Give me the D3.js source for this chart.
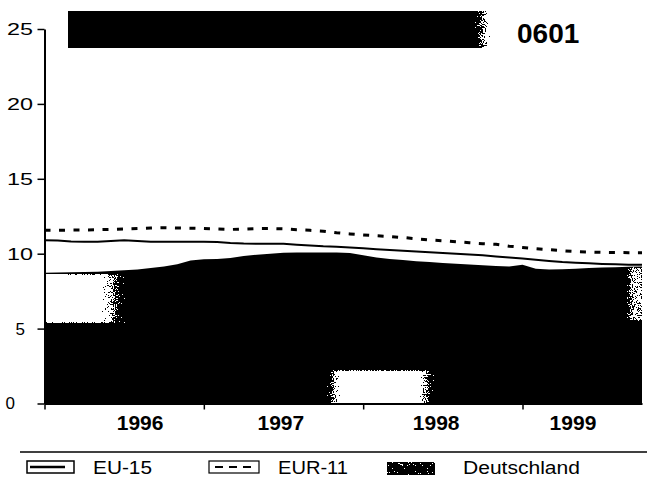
<!DOCTYPE html>
<html>
<head>
<meta charset="utf-8">
<script src="https://cdn.jsdelivr.net/npm/d3@7"></script>
<style>
  html, body { margin: 0; padding: 0; background: #fff; }
  svg { display: block; font-family: "Liberation Sans", Arial, sans-serif; }
</style>
</head>
<body>
<div id="container"></div>
<script>
// monthly values, Jan 1996 .. Oct 1999
const deutschland = [8.72, 8.74, 8.76, 8.78, 8.80, 8.85, 8.89, 8.95, 9.05, 9.15, 9.30, 9.55,
                     9.63, 9.65, 9.72, 9.85, 9.93, 10.00, 10.07, 10.08, 10.08, 10.08, 10.08, 10.05,
                     9.90, 9.75, 9.65, 9.58, 9.50, 9.45, 9.38, 9.33, 9.28, 9.23, 9.18, 9.15,
                     9.27, 9.00, 8.95, 8.97, 9.00, 9.05, 9.08, 9.10, 9.13, 9.15];
const eu15 = [10.90, 10.88, 10.82, 10.80, 10.80, 10.85, 10.90, 10.85, 10.80, 10.80, 10.80, 10.80,
              10.80, 10.78, 10.72, 10.68, 10.67, 10.67, 10.66, 10.60, 10.55, 10.50, 10.47, 10.42,
              10.36, 10.30, 10.25, 10.20, 10.15, 10.10, 10.05, 10.00, 9.95, 9.90, 9.82, 9.75,
              9.68, 9.60, 9.52, 9.45, 9.40, 9.36, 9.32, 9.29, 9.27, 9.26];
const eur11 = [11.56, 11.56, 11.58, 11.58, 11.60, 11.62, 11.65, 11.68, 11.72, 11.74, 11.72, 11.70,
               11.68, 11.65, 11.62, 11.64, 11.68, 11.68, 11.66, 11.60, 11.56, 11.50, 11.40, 11.32,
               11.25, 11.20, 11.15, 11.08, 11.00, 10.92, 10.86, 10.80, 10.73, 10.67, 10.63, 10.50,
               10.42, 10.34, 10.27, 10.20, 10.14, 10.11, 10.09, 10.08, 10.07, 10.07];
const yearLabels = ['1996', '1997', '1998', '1999'];
const yearTicks = [0, 12, 24, 36];
const yTicks = [0, 5, 10, 15, 20, 25];
const legendLabels = ['EU-15', 'EUR-11', 'Deutschland'];
const chartCode = '0601';

const w = 647, h = 483;

const x = d3.scaleLinear().domain([0, deutschland.length - 1]).range([44.5, 642]);
const y = d3.scaleLinear().domain([0, 25]).range([403.5, 29]);

const svg = d3.select('#container').append('svg')
    .attr('width', w)
    .attr('height', h);

const defs = svg.append('defs');

// stipple filter to mimic the scanned, dithered edges
function grainFilter(id, c) {
    const f = defs.append('filter').attr('id', id)
        .attr('x', 0).attr('y', 0).attr('width', 1).attr('height', 1)
        .attr('color-interpolation-filters', 'sRGB');
    f.append('feTurbulence').attr('type', 'fractalNoise').attr('baseFrequency', 0.9)
        .attr('numOctaves', 2).attr('seed', 4).attr('result', 't');
    f.append('feColorMatrix').attr('in', 't').attr('type', 'matrix')
        .attr('values', '0 0 0 0 0  0 0 0 0 0  0 0 0 0 0  2 0 0 0 -0.5').attr('result', 'n');
    f.append('feComposite').attr('in', 'SourceGraphic').attr('in2', 'n')
        .attr('operator', 'arithmetic').attr('k2', 1).attr('k3', 1).attr('k4', -0.5).attr('result', 's');
    f.append('feComponentTransfer').attr('in', 's').attr('result', 'q')
        .append('feFuncA').attr('type', 'discrete').attr('tableValues', '0 1');
    f.append('feColorMatrix').attr('in', 'q').attr('type', 'matrix')
        .attr('values', `0 0 0 0 ${c}  0 0 0 0 ${c}  0 0 0 0 ${c}  0 0 0 1 0`);
}
grainFilter('grainW', 1);
grainFilter('grainB', 0);

function fadeGradient(id, color, stops, vertical) {
    const g = defs.append('linearGradient').attr('id', id)
        .attr('x1', 0).attr('y1', 0).attr('x2', vertical ? 0 : 1).attr('y2', vertical ? 1 : 0);
    stops.forEach(s => g.append('stop').attr('offset', s[0]).attr('stop-color', color).attr('stop-opacity', s[1]));
}
fadeGradient('fadeBar', '#000', [[0, 1], [0.965, 1], [1, 0]]);
fadeGradient('fadeP1', '#fff', [[0, 1], [0.72, 1], [1, 0]]);
fadeGradient('fadeP2', '#fff', [[0, 0], [0.12, 1], [0.86, 1], [1, 0]]);
fadeGradient('fadeP3', '#fff', [[0, 0.25], [0.5, 0.75], [1, 0.55]]);
fadeGradient('fadeLeg', '#fff', [[0, 0.12], [1, 0.12]]);

// title bar
svg.append('rect')
    .attr('x', 68).attr('y', 11).attr('width', 422).attr('height', 37)
    .attr('fill', 'url(#fadeBar)').attr('filter', 'url(#grainB)');
svg.append('text')
    .attr('x', 517).attr('y', 43)
    .attr('font-size', 28).attr('font-weight', 'bold')
    .text(chartCode);

// Deutschland area
const area = d3.area()
    .x((d, i) => x(i))
    .y0(y(0))
    .y1(d => y(d));

defs.append('clipPath').attr('id', 'areaClip')
    .append('path').attr('d', area(deutschland));

svg.append('path')
    .attr('d', area(deutschland))
    .attr('fill', '#000');

// light patches of the printed original
const patches = [
    {m0: 0, m1: 6.0, v0: 5.4, v1: 8.62, fill: 'url(#fadeP1)'},
    {m0: 21.3, m1: 29.3, v0: 0, v1: 2.2, fill: 'url(#fadeP2)'},
    {m0: 43.9, m1: 45, v0: 5.55, v1: 9.05, fill: 'url(#fadeP3)'}
];
const pg = svg.append('g').attr('clip-path', 'url(#areaClip)');
pg.selectAll('rect').data(patches).enter().append('rect')
    .attr('x', d => x(d.m0))
    .attr('width', d => x(d.m1) - x(d.m0))
    .attr('y', d => y(d.v1))
    .attr('height', d => y(d.v0) - y(d.v1))
    .attr('fill', d => d.fill)
    .attr('filter', 'url(#grainW)');

// lines
const line = d3.line()
    .x((d, i) => x(i))
    .y(d => y(d));

svg.append('path')
    .attr('d', line(eu15))
    .attr('fill', 'none').attr('stroke', '#000').attr('stroke-width', 2);

svg.append('path')
    .attr('d', line(eur11))
    .attr('fill', 'none').attr('stroke', '#000').attr('stroke-width', 3)
    .attr('stroke-dasharray', '6 8.5');

// y axis
const yAxis = d3.axisLeft(y).tickValues(yTicks).tickSize(7).tickSizeOuter(0);
const yg = svg.append('g')
    .attr('transform', 'translate(44.5,0)')
    .call(yAxis);
yg.select('.domain').attr('stroke-width', 2);
yg.selectAll('.tick line').attr('stroke-width', 1.5);
yg.selectAll('.tick text')
    .attr('font-size', 17)
    .attr('font-family', '"Liberation Sans", Arial, sans-serif')
    .attr('fill', '#000')
    .attr('x', d => (d >= 10 ? 33 : d === 5 ? 25 : 15) - 44.5)
    .each(function(d) {
        if (d >= 10) d3.select(this).attr('textLength', 26).attr('lengthAdjust', 'spacingAndGlyphs');
    });

// x axis
const xAxis = d3.axisBottom(x).tickValues(yearTicks).tickSize(6).tickSizeOuter(0).tickFormat('');
const xg = svg.append('g')
    .attr('transform', 'translate(0,' + y(0) + ')')
    .call(xAxis);
xg.select('.domain').attr('stroke-width', 2);
xg.selectAll('.tick line').attr('stroke-width', 1.5);

const yearLabelAt = [7.2, 17.8, 29.5, 39.8];
svg.selectAll('.year').data(yearLabels).enter().append('text')
    .attr('class', 'year')
    .attr('x', (d, i) => x(yearLabelAt[i]))
    .attr('y', 430)
    .attr('text-anchor', 'middle')
    .attr('font-size', 21).attr('font-weight', 'bold')
    .text(d => d);

// legend
svg.append('line')
    .attr('x1', 20).attr('x2', 647).attr('y1', 452).attr('y2', 452)
    .attr('stroke', '#000').attr('stroke-width', 1.5);

const leg = svg.append('g');
leg.append('rect').attr('x', 27).attr('y', 461).attr('width', 47).attr('height', 12)
    .attr('fill', 'none').attr('stroke', '#000').attr('stroke-width', 1.5);
leg.append('line').attr('x1', 30).attr('x2', 65).attr('y1', 467).attr('y2', 467)
    .attr('stroke', '#000').attr('stroke-width', 2.5);

leg.append('rect').attr('x', 209).attr('y', 461).attr('width', 50).attr('height', 12)
    .attr('fill', 'none').attr('stroke', '#000').attr('stroke-width', 1.2);
leg.append('line').attr('x1', 215).attr('x2', 251).attr('y1', 467).attr('y2', 467)
    .attr('stroke', '#000').attr('stroke-width', 1.8).attr('stroke-dasharray', '8 6');

leg.append('rect').attr('x', 387).attr('y', 462).attr('width', 48).attr('height', 13)
    .attr('fill', '#000');
leg.append('rect').attr('x', 387).attr('y', 462).attr('width', 48).attr('height', 13)
    .attr('fill', 'url(#fadeLeg)').attr('filter', 'url(#grainW)');

const legText = [{x: 93, len: 59}, {x: 278, len: 70}, {x: 463, len: 117}];
leg.selectAll('.lt').data(legendLabels).enter().append('text')
    .attr('class', 'lt')
    .attr('x', (d, i) => legText[i].x)
    .attr('y', 473.5)
    .attr('font-size', 17.5)
    .attr('textLength', (d, i) => legText[i].len)
    .attr('lengthAdjust', 'spacingAndGlyphs')
    .text(d => d);
</script>
</body>
</html>
